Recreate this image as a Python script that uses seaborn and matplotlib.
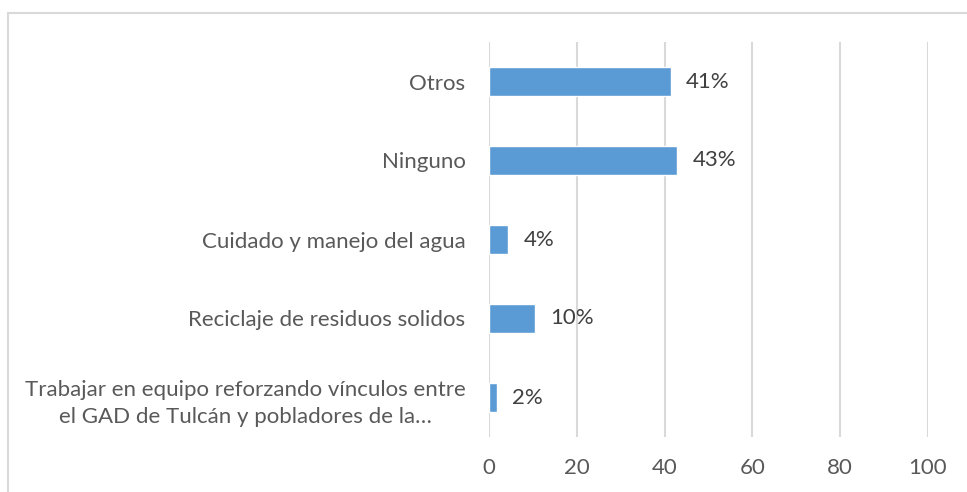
import matplotlib
matplotlib.use("Agg")
import matplotlib.pyplot as plt
import seaborn as sns
import pandas as pd
from matplotlib.patches import Rectangle

categories = [
    "Otros",
    "Ninguno",
    "Cuidado y manejo del agua",
    "Reciclaje de residuos solidos",
    "Trabajar en equipo reforzando vínculos entre\nel GAD de Tulcán y pobladores de la…",
]
values = [41.4, 42.9, 4.4, 10.5, 1.8]
labels = ["41%", "43%", "4%", "10%", "2%"]
xticks = [0, 20, 40, 60, 80, 100]

sns.set_theme(style="white")
plt.rcParams["font.family"] = ["Lato", "DejaVu Sans"]

df = pd.DataFrame({"cat": categories, "val": values})

fig = plt.figure(figsize=(9.67, 4.92), dpi=100)
ax = fig.add_axes([489 / 967, 1 - 437 / 492, (928 - 489) / 967, (437 - 42) / 492])

sns.barplot(data=df, x="val", y="cat", color="#5B9BD5", width=0.36,
            saturation=1, ax=ax, zorder=3, order=categories)

ax.set_xlim(0, 100)
ax.set_xticks(xticks)
ax.set_xticklabels([str(t) for t in xticks])
ax.set_xlabel("")
ax.set_ylabel("")
for s in ax.spines.values():
    s.set_visible(False)
ax.grid(axis="x", color="#D9D9D9", linewidth=1.5, zorder=0)
ax.set_axisbelow(True)
ax.tick_params(axis="both", length=0, labelsize=16, colors="#595959")
ax.tick_params(axis="y", pad=17)
ax.tick_params(axis="x", pad=15)
for t in ax.get_yticklabels():
    t.set_multialignment("center")
    t.set_linespacing(1.45)

for i, (v, lab) in enumerate(zip(values, labels)):
    ax.annotate(lab, xy=(v, i), xytext=(11, 0), textcoords="offset points",
                ha="left", va="center", fontsize=16, color="#404040")

fig.patches.append(Rectangle((8 / 967, -0.1), 1.2, 1.1 - 13 / 492,
                             transform=fig.transFigure, fill=False,
                             edgecolor="#D9D9D9", linewidth=1.5))

fig.savefig("out.png", dpi=100)
